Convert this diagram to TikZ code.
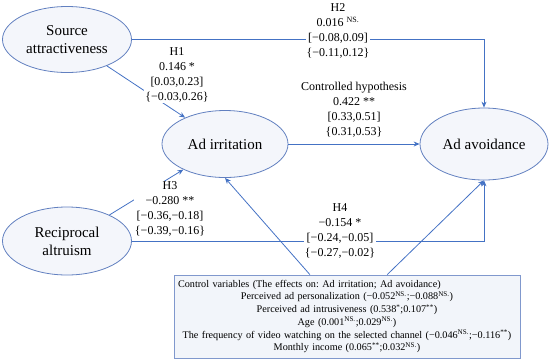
\documentclass[tikz,border=0pt]{standalone}
\usepackage{fontspec}
\setmainfont{Liberation Serif}
\frenchspacing
\usepackage{tikz}
\usetikzlibrary{shapes.geometric, arrows.meta, calc}
\definecolor{myblue}{RGB}{68,114,196}
\definecolor{myedge}{RGB}{98,128,192}
\definecolor{myfill}{RGB}{244,246,251}
\definecolor{boxedge}{RGB}{128,152,205}
\definecolor{boxfill}{RGB}{242,245,250}
\newcommand{\ns}{\textsuperscript{NS.}}
\tikzset{
  construct/.style={ellipse, draw=myedge, fill=myfill, align=center,
    font=\fontsize{15}{18}\selectfont, line width=0.8pt, inner sep=0pt},
  ctrlbox/.style={rectangle, draw=boxedge, fill=boxfill, align=center,
    text width=338pt, minimum width=346pt, minimum height=83pt,
    font=\fontsize{10.2}{12.7}\selectfont, line width=0.8pt},
  pathlabel/.style={fill=white, align=center, inner sep=1pt,
    font=\fontsize{12}{15}\selectfont},
  arrow/.style={-{Stealth[length=6pt, width=5pt]}, line width=0.8pt, color=myblue}
}

\begin{document}
\begin{tikzpicture}[x=1pt, y=-1pt]
  \useasboundingbox (0,0) rectangle (550,360);

  % Constructs
  \node[construct, minimum width=129pt, minimum height=66pt] (src) at (67,39.5) {Source\\attractiveness};
  \node[construct, minimum width=129pt, minimum height=68pt] (recip) at (67,241) {Reciprocal\\altruism};
  \node[construct, minimum width=126pt, minimum height=67pt] (irr) at (225,144) {Ad irritation};
  \node[construct, minimum width=128pt, minimum height=72pt] (avoid) at (484,144) {Ad avoidance};

  % Control variables
  \node[ctrlbox] (ctrl) at (347,316.5) {%
    \makebox[338pt][l]{Control variables (The effects on: Ad irritation; Ad avoidance)}\\
    Perceived ad personalization (−0.052\ns;−0.088\ns)\\
    Perceived ad intrusiveness (0.538\textsuperscript{*};0.107\textsuperscript{**})\\
    Age (0.001\ns;0.029\ns)\\
    The frequency of video watching on the selected channel (−0.046\ns;−0.116\textsuperscript{**})\\
    Monthly income (0.065\textsuperscript{**};0.032\ns)};
  \coordinate (ctrlL) at ($(ctrl.north west)!0.393!(ctrl.north east)$);
  \coordinate (ctrlR) at ($(ctrl.north west)!0.616!(ctrl.north east)$);

  % H1
  \draw[arrow] (src) -- (irr);
  \node[pathlabel] (h1) at (177,75) {H1\\0.146 *\\{}[0.03,0.23]\\\{−0.03,0.26\}};

  % H2
  \draw[arrow] (src.east) -| (avoid.north);
  \node[pathlabel] (h2) at (338,31) {H2\\0.016 \ns\\{}[−0.08,0.09]\\\{−0.11,0.12\}};

  % H3
  \draw[arrow] (recip) -- (irr);
  \node[pathlabel] (h3) at (170,209) {H3\\−0.280 **\\{}[−0.36,−0.18]\\\{−0.39,−0.16\}};

  % H4
  \draw[arrow] (recip.east) -| (avoid.south);
  \node[pathlabel] (h4) at (340,231) {H4\\−0.154 *\\{}[−0.24,−0.05]\\\{−0.27,−0.02\}};

  % Controlled hypothesis
  \draw[arrow] (irr) -- (avoid);
  \node[pathlabel, fill=none] (hc) at (354,110) {Controlled hypothesis\\0.422 **\\{}[0.33,0.51]\\\{0.31,0.53\}};

  % Effects of the control variables
  \draw[arrow] (ctrlL) -- (irr.south);
  \draw[arrow] (ctrlR) -- (avoid.south);
\end{tikzpicture}
\end{document}
